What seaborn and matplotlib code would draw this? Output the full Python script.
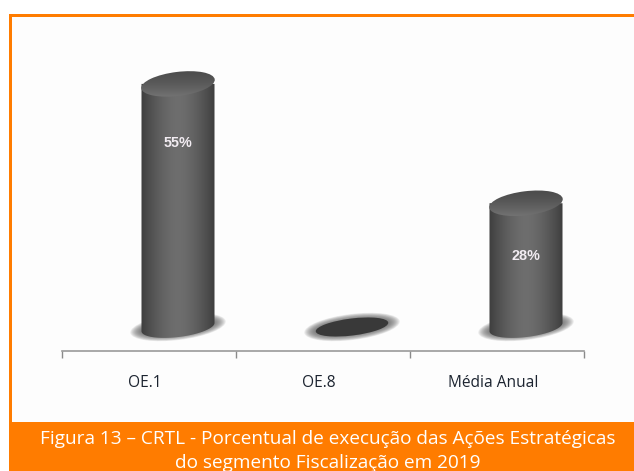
import numpy as np
import matplotlib
matplotlib.use("Agg")
import matplotlib.pyplot as plt
import seaborn as sns
from matplotlib.colors import LinearSegmentedColormap
from matplotlib.patches import Ellipse, Polygon, Rectangle
from matplotlib.transforms import Affine2D, ScaledTranslation

categories = ["OE.1", "OE.8", "Média Anual"]
values = [55, 0, 28]
value_labels = ["55%", "", "28%"]
caption = ("Figura 13 – CRTL - Porcentual de execução das Ações Estratégicas\n"
           "do segmento Fiscalização em 2019")

W, H = 634, 471
ORANGE = "#ff7c00"
PX_PER_PCT = 4.42
PX_PER_CAT = 174
TILT = 7

sns.set_theme(style="white")
plt.rcParams["font.family"] = ["Open Sans", "DejaVu Sans"]

fig = plt.figure(figsize=(W / 100, H / 100), dpi=100, facecolor="white")


def px_axes(left, top, right, bottom):
    return fig.add_axes([left / W, 1 - bottom / H, (right - left) / W, (bottom - top) / H])


# frame and caption band, no border on the right side
fig.add_artist(Rectangle((9 / W, 1 - 422 / H), 625 / W, 406 / H, transform=fig.transFigure,
                         fc="#fdfdfd", ec="none", zorder=-2))
for x, y, w, h in [(9, 14, 3, 410), (9, 14, 625, 3), (9, 422, 625, 49)]:
    fig.add_artist(Rectangle((x / W, 1 - (y + h) / H), w / W, h / H, transform=fig.transFigure,
                             fc=ORANGE, ec="none", zorder=-1))
fig.text(328 / W, 1 - 451 / H, caption, color="white", fontsize=13.7,
         ha="center", va="center", linespacing=1.4)

# axis line with the category ticks, sits left of the bars
ax_base = px_axes(62, 300, 584, 350.5)
ax_base.patch.set_visible(False)
ax_base.set_xlim(-0.5, 2.5)
ax_base.set_yticks([])
ax_base.set_xticks([-0.5, 0.5, 1.5, 2.5])
ax_base.set_xticklabels([])
ax_base.set_xticks(np.arange(len(categories)) - 0.022, labels=categories, minor=True)
ax_base.tick_params(axis="x", which="major", bottom=True, length=5, width=1, color="#8a8a8a")
ax_base.tick_params(axis="x", which="minor", bottom=False, pad=13.5, labelsize=11.2, labelcolor="#1c2430")
sns.despine(ax=ax_base, left=True, top=True, right=True)
ax_base.spines["bottom"].set_color("#9a9a9a")
ax_base.spines["bottom"].set_linewidth(1.2)

# bars, zero sits at y=327
ax = px_axes(91, 20, 613, 351)
ax.patch.set_visible(False)
sns.barplot(x=categories, y=values, ax=ax, width=0.42, color="#555555", saturation=1)
ax.set_xlabel("")
ax.set_ylabel("")
ax.set_xticks([])
ax.set_yticks([])
sns.despine(ax=ax, left=True, bottom=True)

side_shade = 1 - np.abs(np.linspace(-1, 1, 256)) ** 1.6
body_cmap = LinearSegmentedColormap.from_list("body", ["#3e3e3e", "#6e6e6e"])
lid_shade = np.linspace(0, 1, 64)[:, None] ** 1.6
lid_cmap = LinearSegmentedColormap.from_list("lid", ["#4c4c4c", "#7c7c7c"])
ymin, ymax = (327 - 351) / PX_PER_PCT, (327 - 20) / PX_PER_PCT
label_offset_px = [59, 0, 53]


def ellipse_at(i, v, w, h, **kw):
    tr = Affine2D() + ScaledTranslation(i, v, ax.transData)
    return Ellipse((0, 0), w, h, angle=TILT, transform=tr, **kw)


def body_outline(i, v, half_w, half_h):
    # top corners, then the lower half of the tilted base ellipse
    c, s = np.cos(np.radians(TILT)), np.sin(np.radians(TILT))
    t = np.radians(np.linspace(180, 360, 60))
    ex, ey = half_w / c * np.cos(t), half_h * np.sin(t)
    px, py = ex * c - ey * s, ex * s + ey * c
    pts = np.column_stack([i + px / PX_PER_CAT, py / PX_PER_PCT])
    return np.vstack([[i - half_w / PX_PER_CAT, v], pts, [i + half_w / PX_PER_CAT, v]])


for i, (bar, v) in enumerate(zip(list(ax.patches), values)):
    # soft shadow on the floor
    for k in np.linspace(1, 0, 12):
        ax.add_patch(ellipse_at(i, 0, 72 + 24 * k, 14 + 12 * k, fc="#5e5e5e", ec="none",
                                alpha=0.12, zorder=1))
    bar.set_visible(False)
    if v == 0:
        ax.add_patch(ellipse_at(i, 0, 73, 17, fc="#393939", ec="none", zorder=3))
        continue
    x0, x1 = bar.get_x(), bar.get_x() + bar.get_width()
    body = Polygon(body_outline(i, v, 36.5, 10), closed=True, transform=ax.transData,
                   fc="none", ec="none")
    ax.add_patch(body)
    im = ax.imshow(side_shade[None, :], cmap=body_cmap, extent=[x0, x1, ymin, v], aspect="auto", zorder=3)
    im.set_clip_path(body)
    # lid, darker at the back and lighter at the front rim
    lid = ellipse_at(i, v, 74, 24, fc="none", ec="none")
    ax.add_patch(lid)
    im_lid = ax.imshow(lid_shade, cmap=lid_cmap, extent=[x0, x1, v - 17 / PX_PER_PCT, v + 15 / PX_PER_PCT],
                       origin="upper", aspect="auto", zorder=4)
    im_lid.set_clip_path(lid)
    ax.annotate(value_labels[i], (i, v), xytext=(0, -label_offset_px[i] * 0.72),
                textcoords="offset points", ha="center", va="center", color="#f2ecf2",
                fontsize=10.4, fontweight="bold", family="Liberation Sans", zorder=6)

ax.set_xlim(-0.5, 2.5)
ax.set_ylim(ymin, ymax)

fig.savefig("out.png", dpi=100)
